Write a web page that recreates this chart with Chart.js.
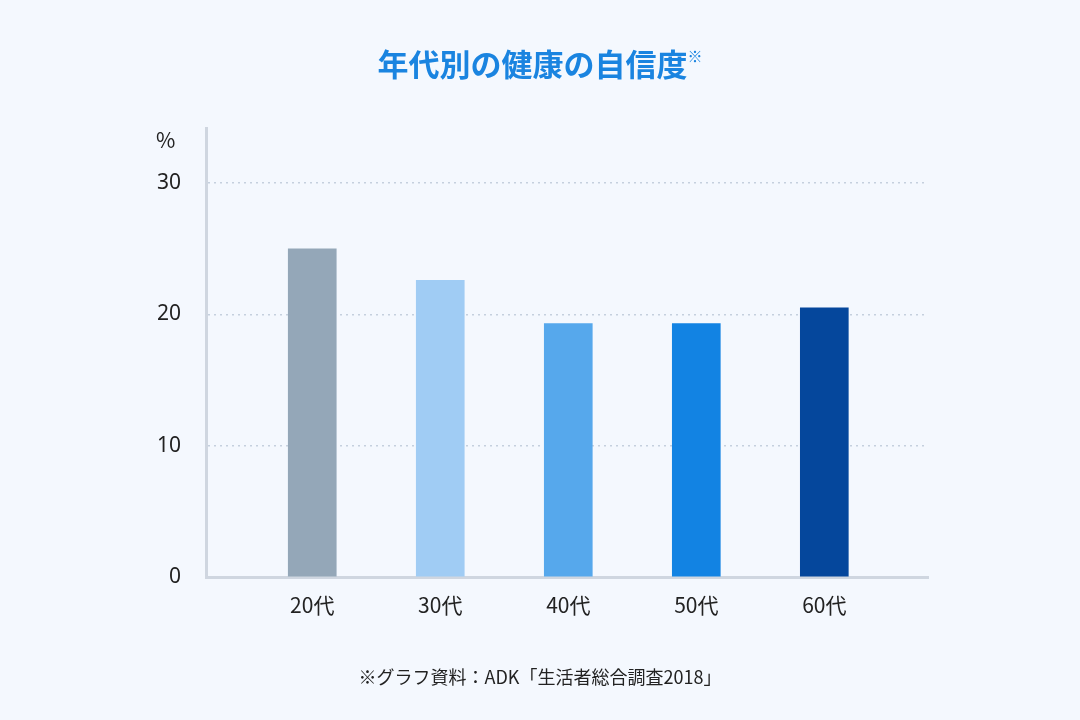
<!DOCTYPE html>
<html>
<head>
<meta charset="utf-8">
<script src="https://cdn.jsdelivr.net/npm/chart.js@4"></script>
<style>
  html, body { margin: 0; padding: 0; background: #f4f8fe; }
  #wrap { position: relative; width: 1080px; height: 720px; font-family: "Noto Sans CJK JP", "Noto Sans", sans-serif; }
  #title { position: absolute; top: 40px; width: 100%; text-align: center; color: #1a84e0; font-size: 31px; font-weight: bold; }
  #title sup { font-size: 15px; vertical-align: 14px; font-weight: normal; }
  #unit { position: absolute; left: 156px; top: 124px; font-size: 21px; color: #222; }
  #note { position: absolute; top: 663px; width: 100%; text-align: center; font-size: 18px; color: #222; }
  canvas { position: absolute; left: 0; top: 0; }
</style>
</head>
<body>
<div id="wrap">
  <canvas id="chart" width="1080" height="720"></canvas>
  <div id="title">年代別の健康の自信度<sup>※</sup></div>
  <div id="unit">%</div>
  <div id="note">※グラフ資料：ADK「生活者総合調査2018」</div>
</div>
<script>
  const categories = ['20代', '30代', '40代', '50代', '60代'];
  const values = [25.0, 22.6, 19.3, 19.3, 20.5];
  const barColors = ['#94a7b8', '#a0ccf4', '#56a8ec', '#1283e3', '#05479c'];
  const yTicks = [0, 10, 20, 30];

  const ctx = document.getElementById('chart').getContext('2d');
  new Chart(ctx, {
    type: 'bar',
    data: {
      datasets: [{
        data: values.map((v, i) => ({ x: i, y: v })),
        backgroundColor: barColors,
        barThickness: 48,
      }],
    },
    options: {
      responsive: false,
      animation: false,
      layout: { padding: { top: 128, right: 152, left: 0, bottom: 0 } },
      plugins: { legend: { display: false }, tooltip: { enabled: false } },
      scales: {
        x: {
          type: 'linear',
          offset: false,
          min: -0.83,
          max: 4.81,
          afterBuildTicks: (axis) => { axis.ticks = categories.map((c, i) => ({ value: i })); },
          afterFit: (axis) => { axis.height = 143; },
          ticks: {
            callback: (v) => categories[v],
            color: '#222',
            font: { size: 21, family: '"Noto Sans CJK JP", sans-serif' },
            padding: 15,
          },
          grid: { display: false, drawTicks: false },
          border: { color: '#cfd6e0', width: 3 },
        },
        y: {
          min: 0,
          max: 34.2,
          afterBuildTicks: (axis) => { axis.ticks = yTicks.map(v => ({ value: v })); },
          afterFit: (axis) => { axis.width = 206; },
          ticks: {
            color: '#222',
            font: { size: 21, family: '"Noto Sans", sans-serif' },
            padding: 25,
          },
          grid: {
            drawTicks: false,
            color: (c) => c.tick && c.tick.value === 0 ? 'rgba(0,0,0,0)' : '#c5d0de',
            lineWidth: 1.5,
          },
          border: { color: '#cfd6e0', width: 3, dash: [2, 4] },
        },
      },
    },
  });
</script>
</body>
</html>
